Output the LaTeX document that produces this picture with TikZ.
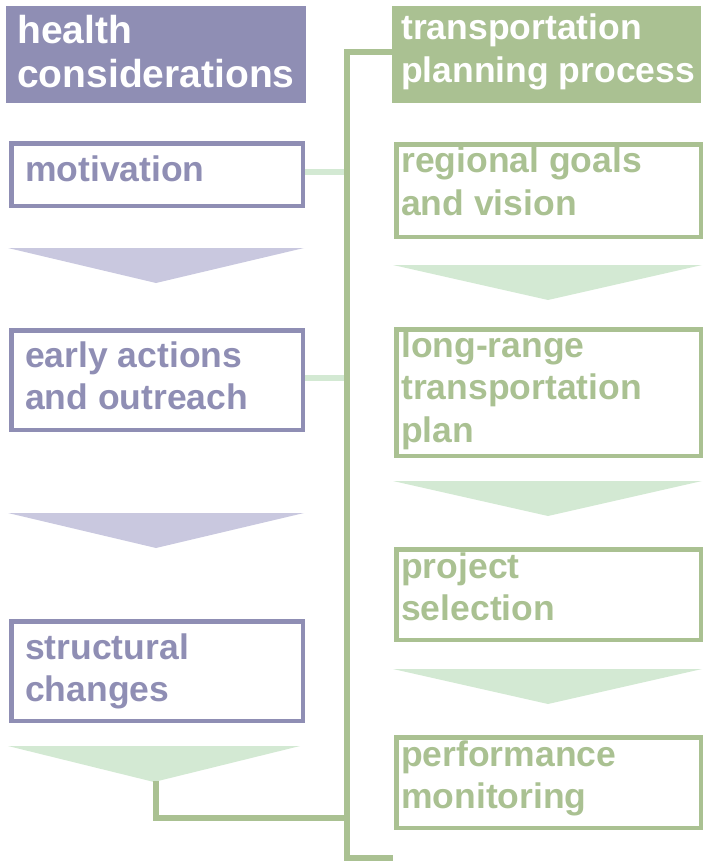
\documentclass[tikz,border=0pt]{standalone}
\usepackage{fontspec}
\setmainfont{Liberation Sans}
\definecolor{hpurple}{HTML}{8F8EB4}
\definecolor{hlav}{HTML}{C9C8DF}
\definecolor{tgreen}{HTML}{AAC192}
\definecolor{tlight}{HTML}{D3E9D3}
\begin{document}
\begin{tikzpicture}[x=1pt,y=-1pt,
  hbox/.style={draw=hpurple,line width=4.5pt,anchor=north west,inner sep=0,minimum width=291.5pt},
  tbox/.style={draw=tgreen,line width=4.5pt,anchor=north west,inner sep=0,minimum width=304.5pt},
  hhead/.style={fill=hpurple,anchor=north west,inner sep=0},
  thead/.style={fill=tgreen,anchor=north west,inner sep=0},
  txt/.style={anchor=base west,inner sep=0,font=\fontsize{35.5}{42.5}\selectfont\bfseries},
  bigtxt/.style={anchor=base west,inner sep=0,font=\fontsize{39}{44}\selectfont\bfseries},
  spine/.style={draw=tgreen,line width=6.5pt},
  link/.style={draw=tlight,line width=6.5pt},
]
\useasboundingbox (0,0) rectangle (702,861);
% headers
\node[hhead,minimum width=300pt,minimum height=97pt] (hh) at (6,6) {};
\node[thead,minimum width=309pt,minimum height=97pt] (th) at (392,6) {};
\node[bigtxt,text=white] (hht) at (17,44) {\parbox[t]{290pt}{\raggedright health\\considerations}};
\node[txt,text=white] (tht) at (401,40) {\parbox[t]{300pt}{\raggedright transportation\\planning process}};
% left boxes
\node[hbox,minimum height=62.5pt] (mot) at (9.25,141.25) {};
\node[hbox,minimum height=99.5pt] (early) at (9.25,328.25) {};
\node[hbox,minimum height=99.5pt] (struct) at (9.25,619.25) {};
\node[txt,text=hpurple] (mott) at (25,182) {\parbox[t]{270pt}{\raggedright motivation}};
\node[txt,text=hpurple] (earlyt) at (25,367) {\parbox[t]{270pt}{\raggedright early actions\\and outreach}};
\node[txt,text=hpurple] (structt) at (25,659) {\parbox[t]{270pt}{\raggedright structural\\changes}};
% right boxes
\node[tbox,minimum height=92.5pt] (reg) at (394.25,142.25) {};
\node[tbox,minimum height=126.5pt] (lrtp) at (394.25,327.25) {};
\node[tbox,minimum height=90.5pt] (proj) at (394.25,547.25) {};
\node[tbox,minimum height=90.5pt] (perf) at (394.25,735.25) {};
\node[txt,text=tgreen] (regt) at (401,173) {\parbox[t]{295pt}{\raggedright regional goals\\and vision}};
\node[txt,text=tgreen] (lrtpt) at (401,357) {\parbox[t]{295pt}{\raggedright long-range\\transportation\\plan}};
\node[txt,text=tgreen] (projt) at (401,578) {\parbox[t]{295pt}{\raggedright project\\selection}};
\node[txt,text=tgreen] (perft) at (401,766) {\parbox[t]{295pt}{\raggedright performance\\monitoring}};
% triangles
\fill[hlav] (8,248) -- (304,248) -- (156,283) -- cycle;
\fill[hlav] (8,513) -- (304,513) -- (156,548) -- cycle;
\fill[tlight] (8,746) -- (300,746) -- (154,782) -- cycle;
\fill[tlight] (393,265) -- (702,265) -- (548,300) -- cycle;
\fill[tlight] (393,481) -- (702,481) -- (548,516) -- cycle;
\fill[tlight] (393,669) -- (702,669) -- (548,704) -- cycle;
% spine
\coordinate (sT) at (347,52);
\coordinate (sB) at (347,858);
\coordinate (bEnd) at (393,858);
\coordinate (apex) at (156,781);
\coordinate (jn) at (347,818);
\draw[link] (mot.east |- 0,172) -- (sT |- 0,172);
\draw[link] (early.east |- 0,378) -- (sT |- 0,378);
\draw[spine] (th.west |- sT) -- (sT) -- (sB) -- (bEnd);
\draw[spine] (apex) -- (apex |- jn) -- (jn);
\end{tikzpicture}
\end{document}
